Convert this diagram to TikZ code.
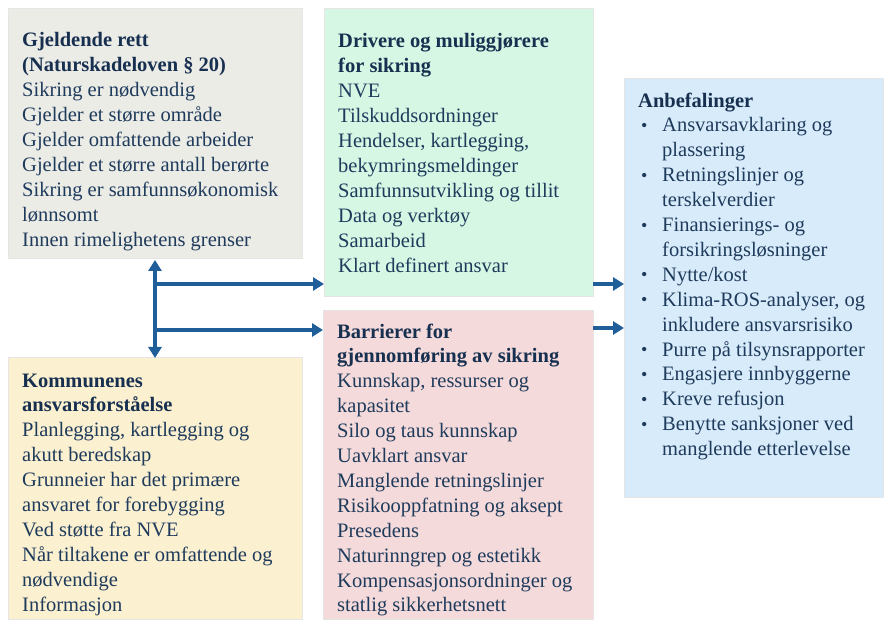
\documentclass[tikz,border=0pt]{standalone}
\usepackage{fontspec}
\setmainfont{Liberation Serif}
\usetikzlibrary{arrows.meta}
\definecolor{greyc}{HTML}{ECECE7}
\definecolor{greenc}{HTML}{D5F7E4}
\definecolor{yellowc}{HTML}{FBF0D0}
\definecolor{pinkc}{HTML}{F4DADA}
\definecolor{bluec}{HTML}{D7EBFA}
\definecolor{txtc}{HTML}{1F3B5C}
\definecolor{titc}{HTML}{173050}
\definecolor{arrc}{HTML}{1F5E99}
\newcommand{\myb}{\hspace*{3pt}\makebox[21pt][l]{\raisebox{0.5pt}{\fontsize{18}{18}\selectfont\textbullet}}}
\newcommand{\mycont}{\hspace*{24pt}}
\newcommand{\ttl}[1]{\textcolor{titc}{\textbf{#1}}}
\begin{document}
\begin{tikzpicture}[x=1pt,y=-1pt,
  box/.style={inner sep=0pt, outer sep=0pt, anchor=north west, draw=black!10, line width=0.5pt},
  txt/.style={anchor=base west, inner sep=0pt, align=left, text=txtc, font=\fontsize{20.5}{24.9}\selectfont},
  arr/.style={draw=arrc, line width=3.8pt, -{Triangle[length=11pt,width=13pt]}},
  darr/.style={draw=arrc, line width=3.8pt, {Triangle[length=11pt,width=13pt]}-{Triangle[length=11pt,width=13pt]}}]
\useasboundingbox (0,0) rectangle (884,620);
\fill[white] (0,0) rectangle (884,620);

\node[box, fill=greyc, minimum width=294pt, minimum height=250pt] (grey) at (8,8) {};
\node[box, fill=yellowc, minimum width=294pt, minimum height=262pt] (yellow) at (8,357) {};
\node[box, fill=greenc, minimum width=269pt, minimum height=288pt] (green) at (324,8) {};
\node[box, fill=pinkc, minimum width=270pt, minimum height=309pt] (pink) at (323,310) {};
\node[box, fill=bluec, minimum width=259pt, minimum height=419pt] (blue) at (624,78) {};

% base anchor = baseline of the last line
\node[txt] (greyt) at (22,246.2) {\ttl{Gjeldende rett}\\ \ttl{(Naturskadeloven § 20)}\\ Sikring er nødvendig\\ Gjelder et større område\\ Gjelder omfattende arbeider\\ Gjelder et større antall berørte\\ Sikring er samfunnsøkonomisk\\ lønnsomt\\ Innen rimelighetens grenser};

\node[txt] (greent) at (338,272.1) {\ttl{Drivere og muliggjørere}\\ \ttl{for sikring}\\ NVE\\ Tilskuddsordninger\\ Hendelser, kartlegging,\\ bekymringsmeldinger\\ Samfunnsutvikling og tillit\\ Data og verktøy\\ Samarbeid\\ Klart definert ansvar};

\node[txt] (yellowt) at (22,611.1) {\ttl{Kommunenes}\\ \ttl{ansvarsforståelse}\\ Planlegging, kartlegging og\\ akutt beredskap\\ Grunneier har det primære\\ ansvaret for forebygging\\ Ved støtte fra NVE\\ Når tiltakene er omfattende og\\ nødvendige\\ Informasjon};

\node[txt] (pinkt) at (337,611.9) {\ttl{Barrierer for}\\ \ttl{gjennomføring av sikring}\\ Kunnskap, ressurser og\\ kapasitet\\ Silo og taus kunnskap\\ Uavklart ansvar\\ Manglende retningslinjer\\ Risikooppfatning og aksept\\ Presedens\\ Naturinngrep og estetikk\\ Kompensasjonsordninger og\\ statlig sikkerhetsnett};

\node[txt] (bluet) at (638,455.6) {\ttl{Anbefalinger}\\
\myb Ansvarsavklaring og\\ \mycont plassering\\
\myb Retningslinjer og\\ \mycont terskelverdier\\
\myb Finansierings- og\\ \mycont forsikringsløsninger\\
\myb Nytte/kost\\
\myb Klima-ROS-analyser, og\\ \mycont inkludere ansvarsrisiko\\
\myb Purre på tilsynsrapporter\\
\myb Engasjere innbyggerne\\
\myb Kreve refusjon\\
\myb Benytte sanksjoner ved\\ \mycont manglende etterlevelse};

\coordinate (hubT) at (155,284);
\coordinate (hubB) at (155,330);
\coordinate (r1) at (0,284);
\coordinate (r2) at (0,328);
\draw[darr] ([yshift=-2pt]grey.south -| hubT) -- ([yshift=-1pt]yellow.north -| hubT);
\draw[arr] ([xshift=-1.9pt]hubT) -- (hubT -| green.west);
\draw[arr] ([xshift=-1.9pt]hubB) -- (hubB -| pink.west);
\draw[arr] (r1 -| green.east) -- (r1 -| blue.west);
\draw[arr] (r2 -| pink.east) -- (r2 -| blue.west);
\end{tikzpicture}
\end{document}
